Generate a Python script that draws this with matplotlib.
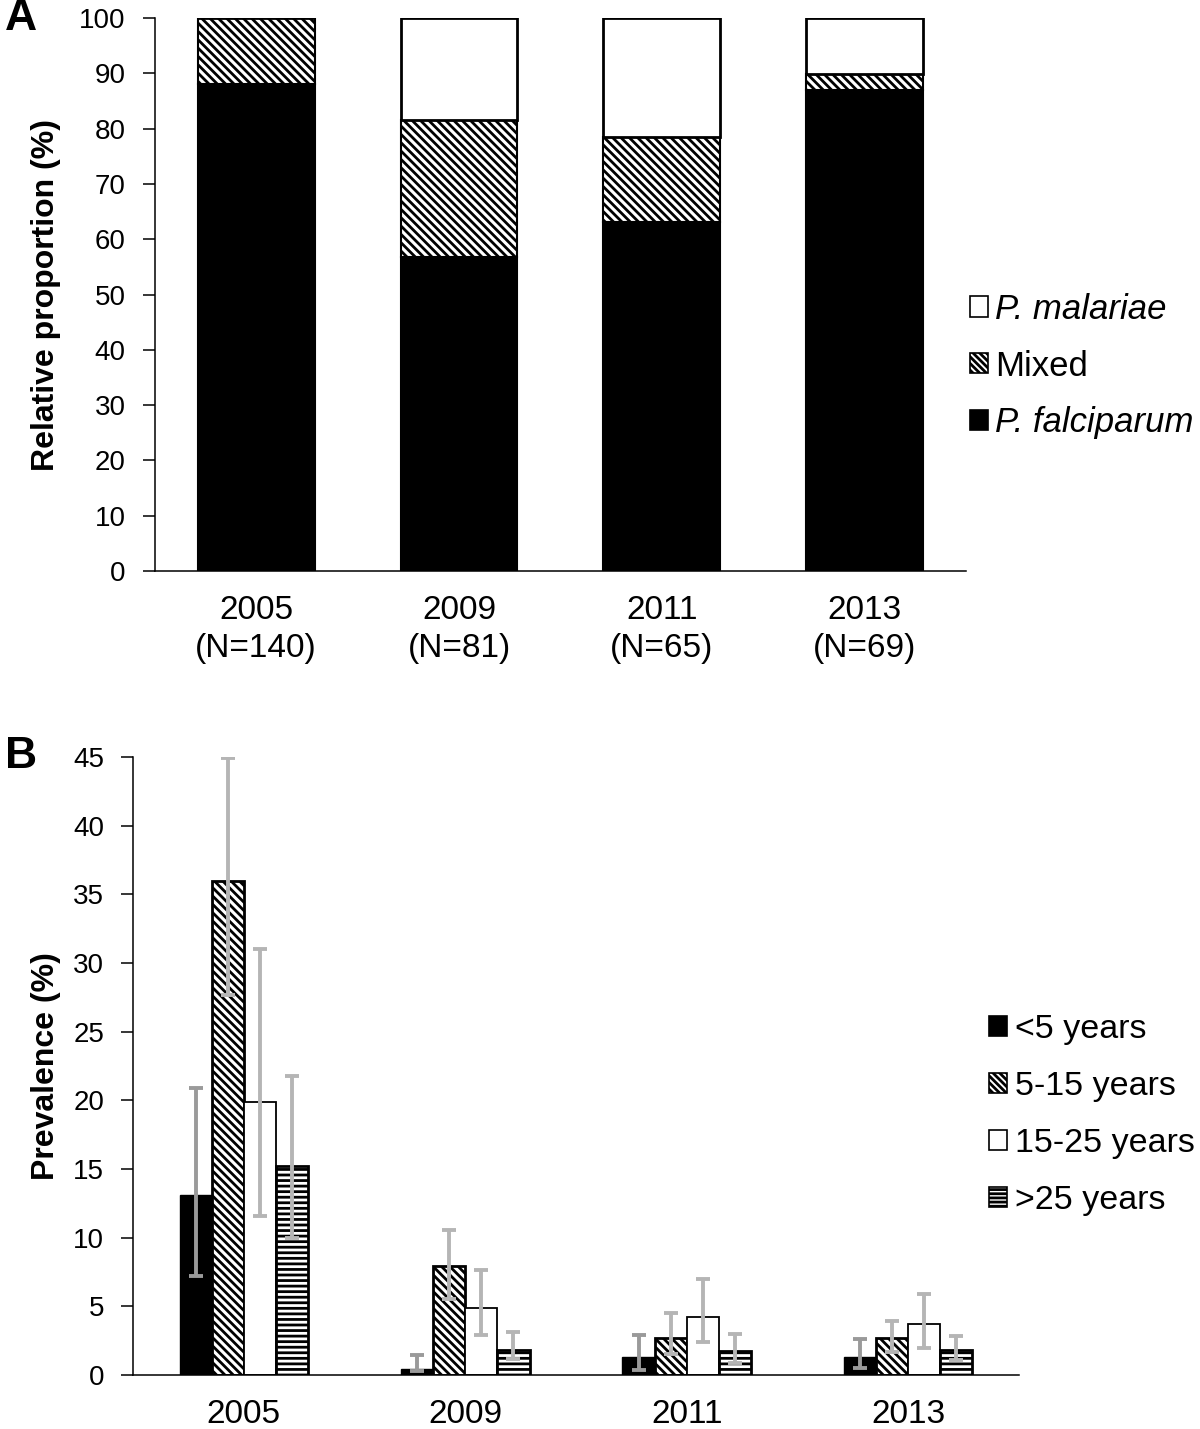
import numpy as np
import matplotlib
matplotlib.use('Agg')
import matplotlib.pyplot as plt
from matplotlib.patches import Patch

plt.rcParams['font.family'] = ['Liberation Sans', 'DejaVu Sans']
plt.rcParams['hatch.linewidth'] = 2.0

# Panel A data (relative proportion, %)
years_a = ['2005\n(N=140)', '2009\n(N=81)', '2011\n(N=65)', '2013\n(N=69)']
falciparum = np.array([88.0, 56.8, 63.1, 87.0])
mixed = np.array([12.0, 24.7, 15.4, 2.9])
malariae = np.array([0.0, 18.5, 21.5, 10.1])

# Panel B data (prevalence %, with lower/upper CI)
years_b = ['2005', '2009', '2011', '2013']
age_groups = ['<5 years', '5-15 years', '15-25 years', '>25 years']
prev_lt5 = [13.1, 0.4, 1.3, 1.3]
prev_5_15 = [36.0, 7.9, 2.7, 2.7]
prev_15_25 = [19.9, 4.85, 4.2, 3.7]
prev_gt25 = [15.2, 1.8, 1.75, 1.85]
lo_lt5 = [7.2, 0.3, 0.36, 0.53]
hi_lt5 = [20.9, 1.46, 2.9, 2.6]
lo_5_15 = [27.7, 5.56, 1.5, 1.67]
hi_5_15 = [44.9, 10.56, 4.5, 3.93]
lo_15_25 = [11.6, 2.9, 2.4, 1.94]
hi_15_25 = [31.0, 7.65, 7.0, 5.92]
lo_gt25 = [10.0, 1.14, 0.9, 1.09]
hi_gt25 = [21.8, 3.13, 3.0, 2.84]

diag = '\\' * 4
horiz = '---'

fig = plt.figure(figsize=(12, 14.29), dpi=100)

# ---------- Panel A ----------
axA = fig.add_axes([0.129, 0.6004, 0.676, 0.387])
x = np.arange(len(years_a))
w = 0.576
axA.bar(x, falciparum, width=w, color='black', edgecolor='black', lw=1.5)
axA.bar(x, mixed, width=w, bottom=falciparum, color='white',
        edgecolor='black', hatch=diag, lw=1.5)
axA.bar(x, malariae, width=w, bottom=falciparum + mixed, color='white',
        edgecolor='black', lw=2)
axA.set_xlim(-0.5, 3.5)
axA.set_ylim(0, 100)
axA.set_yticks(range(0, 101, 10))
axA.set_xticks(x)
axA.set_xticklabels(years_a, linespacing=1.3)
axA.tick_params(axis='y', length=9, width=1.1, labelsize=20, pad=12)
axA.tick_params(axis='x', length=0, labelsize=24, pad=17)
for s in ['top', 'right']:
    axA.spines[s].set_visible(False)
for s in ['left', 'bottom']:
    axA.spines[s].set_linewidth(1.1)
axA.set_ylabel('Relative proportion (%)', fontsize=23, fontweight='bold')
axA.yaxis.set_label_coords(-0.116, 0.5)

handles_a = [Patch(facecolor='white', edgecolor='black', lw=1.2),
             Patch(facecolor='white', edgecolor='black', hatch='\\' * 5, lw=1.2),
             Patch(facecolor='black', edgecolor='black', lw=1.2)]
legA = fig.legend(handles_a, ['P. malariae', 'Mixed', 'P. falciparum'],
                  loc='center left', bbox_to_anchor=(0.808, 1 - 366 / 1429),
                  frameon=False, fontsize=25, handlelength=0.52, handleheight=0.52,
                  handletextpad=0.22, labelspacing=0.68, borderpad=0, borderaxespad=0)
legA.get_texts()[0].set_style('italic')
legA.get_texts()[2].set_style('italic')

# ---------- Panel B ----------
axB = fig.add_axes([0.111, 0.0378, 0.738, 0.4325])
xb = np.arange(len(years_b))
bw = 0.145
series = [
    (prev_lt5, lo_lt5, hi_lt5, dict(color='black', edgecolor='black', lw=1), '#9a9a9a'),
    (prev_5_15, lo_5_15, hi_5_15, dict(color='white', edgecolor='black', hatch=diag, lw=2), '#b5b5b5'),
    (prev_15_25, lo_15_25, hi_15_25, dict(color='white', edgecolor='black', lw=1.3), '#b5b5b5'),
    (prev_gt25, lo_gt25, hi_gt25, dict(color='white', edgecolor='black', hatch=horiz, lw=2), '#b5b5b5'),
]
for i, (vals, lo, hi, style, ecol) in enumerate(series):
    pos = xb + (i - 1.5) * bw
    vals = np.array(vals)
    yerr = [vals - np.array(lo), np.array(hi) - vals]
    axB.bar(pos, vals, width=bw, zorder=2, **style)
    axB.errorbar(pos, vals, yerr=yerr, fmt='none', ecolor=ecol, elinewidth=2.8,
                 capsize=5, capthick=2.8, zorder=3)
axB.set_xlim(-0.5, 3.5)
axB.set_ylim(0, 45)
axB.set_yticks(range(0, 46, 5))
axB.set_xticks(xb)
axB.set_xticklabels(years_b)
axB.tick_params(axis='y', length=9, width=1.1, labelsize=20, pad=12)
axB.tick_params(axis='x', length=0, labelsize=24, pad=17)
for s in ['top', 'right']:
    axB.spines[s].set_visible(False)
for s in ['left', 'bottom']:
    axB.spines[s].set_linewidth(1.1)
axB.set_ylabel('Prevalence (%)', fontsize=23, fontweight='bold')
axB.yaxis.set_label_coords(-0.082, 0.5)

handles_b = [Patch(facecolor='black', edgecolor='black', lw=1.2),
             Patch(facecolor='white', edgecolor='black', hatch='\\' * 5, lw=1.2),
             Patch(facecolor='white', edgecolor='black', lw=1.2),
             Patch(facecolor='white', edgecolor='black', hatch='----', lw=1.2)]
fig.legend(handles_b, age_groups, loc='center left',
           bbox_to_anchor=(0.824, 1 - 1115 / 1429), frameon=False, fontsize=24.5,
           handlelength=0.54, handleheight=0.54, handletextpad=0.22,
           labelspacing=0.76, borderpad=0, borderaxespad=0)

fig.text(0.004, 1 - 18 / 1429, 'A', fontsize=32, fontweight='bold', va='center')
fig.text(0.004, 1 - 757 / 1429, 'B', fontsize=32, fontweight='bold', va='center')

fig.savefig('out.png', dpi=100)
